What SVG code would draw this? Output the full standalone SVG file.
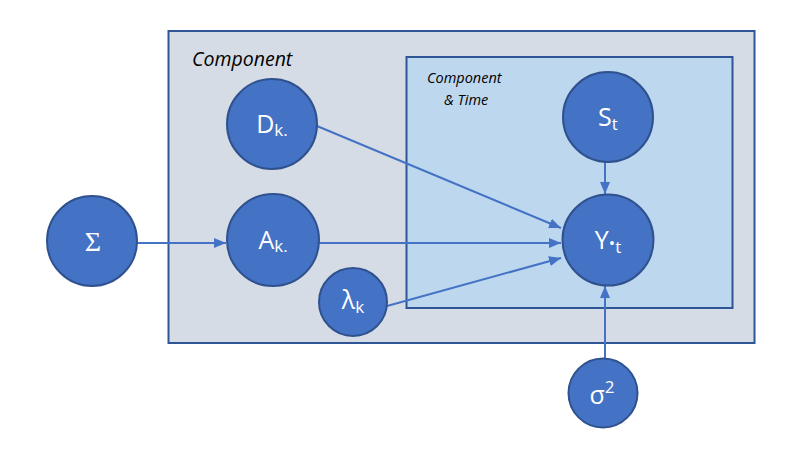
<svg xmlns="http://www.w3.org/2000/svg" width="788" height="450" viewBox="0 0 788 450">
<style>
.node{fill:#4472C4;stroke:#2F528F;stroke-width:2}
.lbl{fill:#fff;font-family:"Open Sans","Liberation Sans",sans-serif;font-size:25px;text-anchor:middle}
.sub{font-size:17px}
.title{font-family:"Open Sans","Liberation Sans",sans-serif;font-style:italic;fill:#000}
.edge{stroke:#4472C4;stroke-width:2;fill:none;marker-end:url(#ah)}
</style>
<defs>
<marker id="ah" viewBox="0 0 12 10" refX="12" refY="5" markerWidth="12" markerHeight="10" markerUnits="userSpaceOnUse" orient="auto">
<path d="M0,0 L12,5 L0,10 Z" fill="#4472C4"/>
</marker>
</defs>
<rect width="788" height="450" fill="#fff"/>
<g id="plate-component">
<rect x="168.5" y="31" width="586" height="312" fill="#D6DCE5" stroke="#2F5597" stroke-width="2"/>
<text class="title" x="192" y="66" font-size="19.5">Component</text>
</g>
<g id="plate-time">
<rect x="406.5" y="57" width="326" height="251" fill="#BDD7EE" stroke="#2F5597" stroke-width="2"/>
<text class="title" x="427" y="83" font-size="14.5">Component</text>
<text class="title" x="444" y="105" font-size="14.5">&amp; Time</text>
</g>
<g id="connectors">
<line class="edge" x1="137" y1="243" x2="226" y2="243"/>
<line class="edge" x1="318" y1="243" x2="561" y2="243"/>
<line class="edge" x1="317" y1="126" x2="561" y2="228"/>
<line class="edge" x1="387" y1="306" x2="561" y2="258"/>
<line class="edge" x1="605" y1="161" x2="605" y2="194"/>
<line class="edge" x1="605" y1="358" x2="605" y2="286"/>
</g>
<g id="node-sigma">
<circle class="node" cx="92" cy="241" r="45"/>
<text class="lbl" x="93" y="251" style="font-family:'Liberation Serif',serif;font-size:28px">Σ</text>
</g>
<g id="node-D">
<circle class="node" cx="272" cy="124" r="45"/>
<text class="lbl" x="272" y="133">D<tspan class="sub" dy="3">k.</tspan></text>
</g>
<g id="node-A">
<circle class="node" cx="273" cy="240" r="46"/>
<text class="lbl" x="273" y="249">A<tspan class="sub" dy="3">k.</tspan></text>
</g>
<g id="node-lambda">
<circle class="node" cx="353" cy="302" r="34"/>
<text class="lbl" x="353" y="309">λ<tspan class="sub" dy="4">k</tspan></text>
</g>
<g id="node-S">
<circle class="node" cx="608" cy="117" r="45"/>
<text class="lbl" x="608" y="126">S<tspan class="sub" dy="4">t</tspan></text>
</g>
<g id="node-Y">
<circle class="node" cx="608" cy="240" r="45.5"/>
<text class="lbl" x="608" y="249">Y<tspan class="sub" dy="0">•</tspan><tspan class="sub" dy="4">t</tspan></text>
</g>
<g id="node-sigma2">
<circle class="node" cx="603" cy="393" r="34.5"/>
<text class="lbl" x="602" y="404">σ<tspan class="sub" dy="-11">2</tspan></text>
</g>
</svg>
